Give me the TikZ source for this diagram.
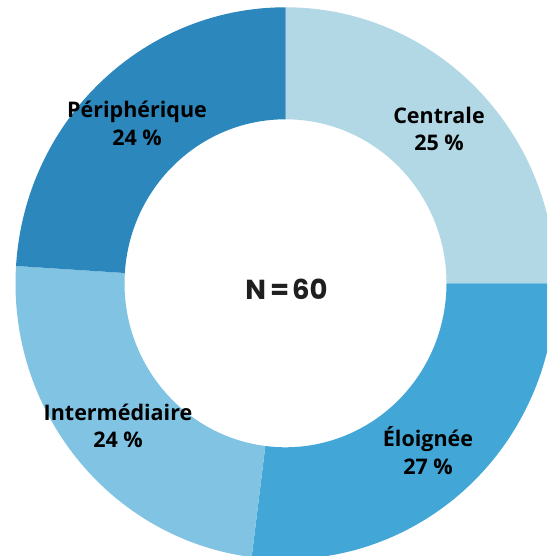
\documentclass[tikz,border=0pt]{standalone}
\usepackage{fontspec}
\setmainfont{Open Sans}
\newfontfamily\nfont{Poppins}
\definecolor{cCentrale}{HTML}{B2D8E6}
\definecolor{cEloignee}{HTML}{42A7D7}
\definecolor{cInter}{HTML}{81C3E2}
\definecolor{cPeri}{HTML}{2B87BC}
\tikzset{
  lbl/.style={align=center, inner sep=0pt, font=\fontsize{21.5}{27.5}\selectfont\bfseries, text=black},
}
\newcommand{\donutseg}[3]{%
  \fill[#3] ([shift={(#1:270 and 276)}]C) arc[start angle=#1, end angle=#2, x radius=270, y radius=276]
    -- ([shift={(#2:161 and 164)}]C) arc[start angle=#2, end angle=#1, x radius=161, y radius=164] -- cycle;}
\begin{document}
\begin{tikzpicture}[x=1pt,y=-1pt]
\useasboundingbox (0,0) rectangle (547,556);
\clip (0,0) rectangle (547,556);
\fill[white] (0,0) rectangle (547,556);
\coordinate (C) at (285.5,283.3);
\begin{scope}[y=1pt]
\donutseg{90}{0}{cCentrale}
\donutseg{0}{-97.2}{cEloignee}
\donutseg{-97.2}{-183.6}{cInter}
\donutseg{176.4}{90}{cPeri}
\end{scope}
\node[lbl] (centrale) at (439,129) {Centrale\\25 \%};
\node[lbl] (peri) at (137,123.5) {Périphérique\\24 \%};
\node[lbl] (inter) at (118,426) {Intermédiaire\\24 \%};
\node[lbl] (eloi) at (428,450.5) {Éloignée\\27 \%};
\node[inner sep=0pt, font=\nfont\fontsize{27.5}{30}\selectfont\bfseries, text=black!88] (n) at (286.5,289) {N\kern4pt=\kern3pt60};
\end{tikzpicture}
\end{document}
